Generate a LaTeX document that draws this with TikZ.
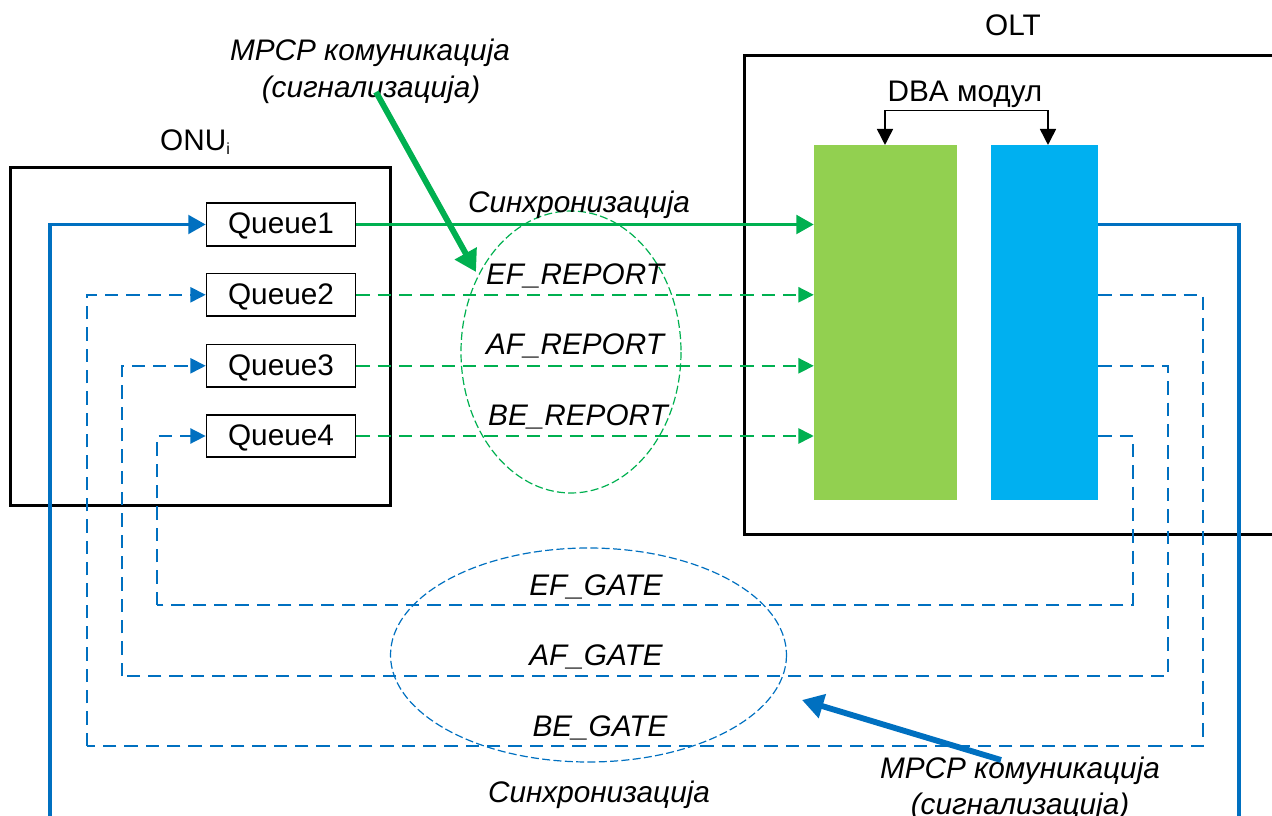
\documentclass[tikz,border=0pt]{standalone}
\usepackage{fontspec}
\setmainfont{Liberation Sans}
\usetikzlibrary{arrows.meta,calc}
\definecolor{lineblue}{HTML}{0070C0}
\definecolor{linegreen}{HTML}{00B050}
\definecolor{fillgreen}{HTML}{92D050}
\definecolor{fillblue}{HTML}{00B0F0}
\tikzset{
  x=0.75pt,y=-0.75pt,
  txt/.style={inner sep=0pt,font=\fontsize{22.3}{26}\selectfont},
  ittxt/.style={txt,font=\fontsize{22.3}{26}\selectfont\itshape,yshift=-2.2pt},
  queuebox/.style={draw=black,line width=1.3pt,fill=white,minimum width=111.75pt,minimum height=32pt,inner sep=0pt,txt,text height=16pt,text depth=1.8pt},
  solidblue/.style={draw=lineblue,line width=2.3pt},
  solidgreen/.style={draw=linegreen,line width=2.3pt},
  bigtip/.style={-{Triangle[length=13pt,width=14pt]}},
  smalltip/.style={-{Triangle[length=11.5pt,width=11.5pt]}},
  dashblue/.style={draw=lineblue,line width=1.2pt,dash pattern=on 10pt off 6pt},
  dashgreen/.style={draw=linegreen,line width=1.2pt,dash pattern=on 10pt off 6pt},
  callout/.style={line width=4.4pt,-{Triangle[length=16pt,width=18pt]}},
  ringgreen/.style={draw=linegreen,line width=0.9pt,dash pattern=on 6pt off 2.5pt},
  ringblue/.style={draw=lineblue,line width=0.9pt,dash pattern=on 6pt off 2.5pt},
}
\begin{document}
\begin{tikzpicture}
\useasboundingbox (0,0) rectangle (1272,816);
\clip (0,0) rectangle (1272,816);
% enclosures
\draw[black,line width=2.25pt] (10,168) rectangle (390,506);
\draw[black,line width=2.25pt] (1290,56) -- (744,56) -- (744,535) -- (1290,535);
% blocks
\node[fill=fillgreen,inner sep=0pt,minimum width=107.25pt,minimum height=266.25pt] (green) at (885.5,322.75) {};
\node[fill=fillblue,inner sep=0pt,minimum width=80.6pt,minimum height=266.25pt] (blue) at (1044.25,322.75) {};
% queues
\node[queuebox] (q1) at (281,224.5) {Queue1};
\node[queuebox] (q2) at (281,294.8) {Queue2};
\node[queuebox] (q3) at (281,365.8) {Queue3};
\node[queuebox] (q4) at (281,436) {Queue4};
% free-end coordinates
\coordinate (sr) at (1239,820);
\coordinate (sl) at (50,820);
\coordinate (b2) at (87,746);
\coordinate (b3) at (122,676);
\coordinate (b4) at (157,605);
\coordinate (r2) at (1203,746);
\coordinate (r3) at (1168,676);
\coordinate (r4) at (1133,605);
% ellipses
\draw[ringgreen] (571,352) ellipse [x radius=110,y radius=141];
\draw[ringblue] (588.5,655) ellipse [x radius=198,y radius=107];
% green links
\draw[solidgreen,bigtip] (q1.east) -- (q1.east -| green.west);
\draw[dashgreen,smalltip] (q2.east) -- (q2.east -| green.west);
\draw[dashgreen,smalltip] (q3.east) -- (q3.east -| green.west);
\draw[dashgreen,smalltip] (q4.east) -- (q4.east -| green.west);
% blue links
\draw[solidblue] (q1.west -| blue.east) -- (q1.west -| sr) -- (sr);
\draw[solidblue,bigtip] (sl) -- (q1.west -| sl) -- (q1.west);
\draw[dashblue] (q2.west -| blue.east) -- (q2.west -| r2) -- (r2) -- (b2);
\draw[dashblue,smalltip] (b2) -- (q2.west -| b2) -- (q2.west);
\draw[dashblue] (q3.west -| blue.east) -- (q3.west -| r3) -- (r3) -- (b3);
\draw[dashblue,smalltip] (b3) -- (q3.west -| b3) -- (q3.west);
\draw[dashblue] (q4.west -| blue.east) -- (q4.west -| r4) -- (r4) -- (b4);
\draw[dashblue,smalltip] (b4) -- (q4.west -| b4) -- (q4.west);
% labels
\node[txt,yshift=-1.5pt] (onu) at (195,140) {ONU\raisebox{-0.25ex}{\fontsize{12}{14}\selectfont i}};
\node[txt] (olt) at (1013,25) {OLT};
\node[txt,yshift=-1.5pt] (dba) at (965,92) {DBA модул};
\node[ittxt] (mpcp1a) at (370,50) {MPCP комуникација};
\node[ittxt] (mpcp1b) at (371,87) {(сигнализација)};
\node[ittxt] (sync1) at (579,202) {Синхронизација};
\node[ittxt] (efr) at (575,273) {EF\_REPORT};
\node[ittxt] (afr) at (575,343) {AF\_REPORT};
\node[ittxt] (ber) at (578,414) {BE\_REPORT};
\node[ittxt] (efg) at (596,584) {EF\_GATE};
\node[ittxt] (afg) at (596,654) {AF\_GATE};
\node[ittxt] (beg) at (600,725) {BE\_GATE};
\node[ittxt] (sync2) at (599,792) {Синхронизација};
\node[ittxt] (mpcp2a) at (1020,768) {MPCP комуникација};
\node[ittxt] (mpcp2b) at (1020,804) {(сигнализација)};
% DBA bracket
\coordinate (brl) at (885,110.5);
\coordinate (brr) at (1048,110.5);
\draw[black,line width=1.2pt,-{Triangle[length=12pt,width=12pt]}] (brl) -- (brl |- green.north);
\draw[black,line width=1.2pt,-{Triangle[length=12pt,width=12pt]}] (brr) -- (brr |- blue.north);
\draw[black,line width=1.2pt] (brl) -- (brr);
% callouts
\coordinate (cg0) at (376,92);
\coordinate (cg1) at (476,272);
\coordinate (cb0) at (1001,760);
\coordinate (cb1) at (802,700);
\draw[callout,draw=linegreen,fill=linegreen] (cg0) -- (cg1);
\draw[callout,draw=lineblue,fill=lineblue] (cb0) -- (cb1);
\end{tikzpicture}
\end{document}
